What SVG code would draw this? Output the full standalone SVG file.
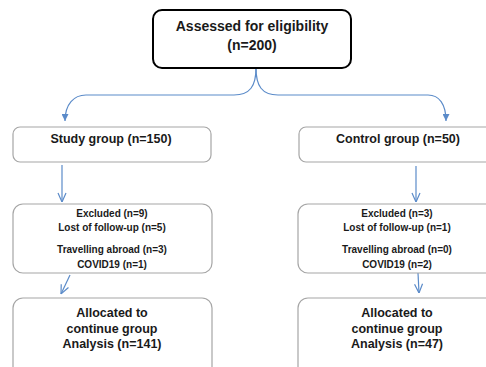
<svg xmlns="http://www.w3.org/2000/svg" width="486" height="367" viewBox="0 0 486 367">
<style>
.box{fill:#fff;stroke:#a6a6a6;stroke-width:1.2}
.main{fill:#fff;stroke:#000;stroke-width:2}
.t{font-family:"Liberation Sans",Arial,sans-serif;font-weight:bold;fill:#1a1a1a;text-anchor:middle}
.c{fill:none;stroke:#5b8bc9;stroke-width:1.2}
</style>
<defs>
<marker id="tri" viewBox="0 0 10 10" refX="10" refY="5" markerWidth="7" markerHeight="7" markerUnits="userSpaceOnUse" orient="auto">
<path d="M0,0 L10,5 L0,10 z" fill="#5b8bc9"/>
</marker>
<marker id="vee" viewBox="0 0 10 10" refX="10" refY="5" markerWidth="10" markerHeight="10" markerUnits="userSpaceOnUse" orient="auto">
<path d="M1,1 L10,5 L1,9" fill="none" stroke="#5b8bc9" stroke-width="1.2"/>
</marker>
</defs>
<rect width="486" height="367" fill="#fff"/>
<g id="connectors">
<path class="c" d="M256,68 C256,86 250,95 234,95 L86,95 C74,95 65,104 65,121" marker-end="url(#tri)"/>
<path class="c" d="M256,68 C256,86 262,95 278,95 L428,95 C439,95 446,104 446,121" marker-end="url(#tri)"/>
<path class="c" d="M62,165 L62,202" marker-end="url(#vee)"/>
<path class="c" d="M416,166 L416,202" marker-end="url(#vee)"/>
<path class="c" d="M70,275 L61,294" marker-end="url(#vee)"/>
<path class="c" d="M418,273 L419,293" marker-end="url(#vee)"/>
</g>
<g id="assessed">
<rect class="main" x="153" y="10" width="198" height="58" rx="9"/>
<text class="t" x="252" y="31" font-size="14">Assessed for eligibility</text>
<text class="t" x="252" y="50" font-size="14">(n=200)</text>
</g>
<g id="study">
<rect class="box" x="13" y="127" width="198" height="35" rx="7"/>
<text class="t" x="111" y="143" font-size="12.5">Study group (n=150)</text>
</g>
<g id="control">
<rect class="box" x="299" y="127" width="200" height="35" rx="7"/>
<text class="t" x="398" y="143" font-size="12.5">Control group (n=50)</text>
</g>
<g id="excluded-study">
<rect class="box" x="13" y="204" width="199" height="69" rx="10"/>
<text class="t" x="112" y="217" font-size="10">Excluded (n=9)</text>
<text class="t" x="112" y="231" font-size="10">Lost of follow-up (n=5)</text>
<text class="t" x="112" y="253" font-size="10">Travelling abroad  (n=3)</text>
<text class="t" x="112" y="268" font-size="10">COVID19 (n=1)</text>
</g>
<g id="excluded-control">
<rect class="box" x="298" y="204" width="200" height="69" rx="10"/>
<text class="t" x="397" y="217" font-size="10">Excluded (n=3)</text>
<text class="t" x="397" y="231" font-size="10">Lost of follow-up (n=1)</text>
<text class="t" x="397" y="253" font-size="10">Travelling abroad  (n=0)</text>
<text class="t" x="397" y="268" font-size="10">COVID19 (n=2)</text>
</g>
<g id="allocated-study">
<rect class="box" x="13" y="298" width="199" height="80" rx="10"/>
<text class="t" x="112" y="317" font-size="12.5">Allocated to</text>
<text class="t" x="112" y="333" font-size="12.5">continue group</text>
<text class="t" x="112" y="348" font-size="12.5">Analysis (n=141)</text>
</g>
<g id="allocated-control">
<rect class="box" x="298" y="298" width="200" height="80" rx="10"/>
<text class="t" x="397" y="317" font-size="12.5">Allocated to</text>
<text class="t" x="397" y="333" font-size="12.5">continue group</text>
<text class="t" x="397" y="348" font-size="12.5">Analysis (n=47)</text>
</g>
</svg>
